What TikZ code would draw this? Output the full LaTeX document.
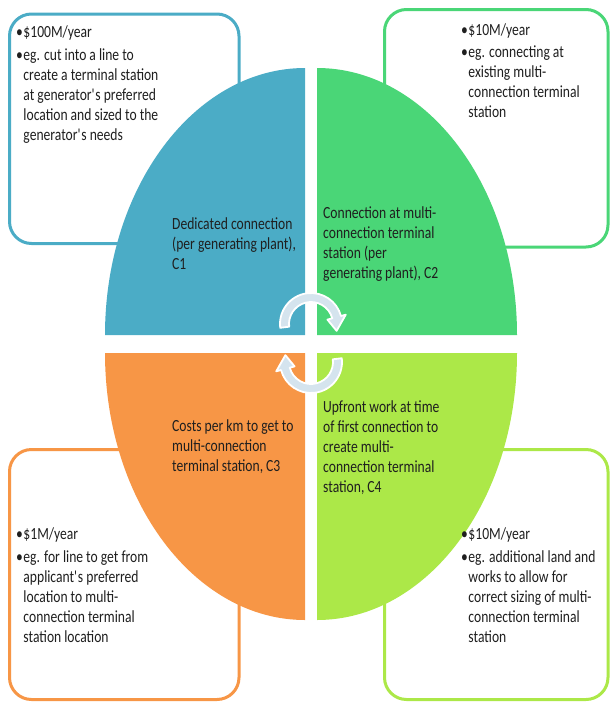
\documentclass[tikz,border=0pt]{standalone}
\usepackage{fontspec}
\setmainfont{Carlito}[FakeStretch=0.8]
\usetikzlibrary{calc}

\definecolor{cblue}{HTML}{4BACC6}
\definecolor{cgreen}{HTML}{4AD677}
\definecolor{corange}{HTML}{F79646}
\definecolor{clime}{HTML}{ACE848}
\definecolor{cturn}{HTML}{D5E4EE}

\newcommand{\items}[1]{\begin{tabular}[t]{@{}l@{\hspace{0.5pt}}l@{}}#1\end{tabular}}
\newcommand{\lines}[1]{\begin{tabular}[t]{@{}l@{}}#1\end{tabular}}
\newcommand{\q}{\textquotesingle}

\begin{document}
\begin{tikzpicture}[x=1pt,y=-1pt,
  font=\fontsize{17}{20}\selectfont,
  box/.style={line width=3pt,rounded corners=22pt,fill=white},
  txt/.style={anchor=base west,inner sep=0pt,text=black!88},
  turn/.style={fill=cturn,draw=white,line width=1.8pt,line join=round}]

\useasboundingbox (0,0) rectangle (611,702);

\def\rx{200}
\def\ry{267}

\draw[box,draw=cblue] (9.5,14) rectangle (239,243.5);
\draw[box,draw=cgreen] (384.5,9.5) rectangle (608,247);
\draw[box,draw=corange] (9.5,449.5) rectangle (239,699.5);
\draw[box,draw=clime] (384.5,449.5) rectangle (608,699.5);

\fill[cblue] (305,335) -- (105,335)
  arc[start angle=180,end angle=270,x radius=\rx,y radius=\ry] -- cycle;
\fill[cgreen] (317,335) -- (317,68)
  arc[start angle=270,end angle=360,x radius=\rx,y radius=\ry] -- cycle;
\fill[corange] (305,353) -- (305,620)
  arc[start angle=90,end angle=180,x radius=\rx,y radius=\ry] -- cycle;
\fill[clime] (317,353) -- (517,353)
  arc[start angle=0,end angle=90,x radius=\rx,y radius=\ry] -- cycle;

\node[txt] (cost1) at (16,37) {\items{\textbullet & \$100M/year\\[3pt]
  \textbullet & eg. cut into a line to\\
  & create a terminal station\\
  & at generator\q s preferred\\
  & location and sized to the\\
  & generator\q s needs}};
\node[txt] (cost2) at (461,35) {\items{\textbullet & \$10M/year\\[2pt]
  \textbullet & eg. connecting at\\
  & existing multi-\\
  & connection terminal\\
  & station}};
\node[txt] (cost3) at (16,539) {\items{\textbullet & \$1M/year\\[3pt]
  \textbullet & eg. for line to get from\\
  & applicant\q s preferred\\
  & location to multi-\\
  & connection terminal\\
  & station location}};
\node[txt] (cost4) at (461,539) {\items{\textbullet & \$10M/year\\[3pt]
  \textbullet & eg. additional land and\\
  & works to allow for\\
  & correct sizing of multi-\\
  & connection terminal\\
  & station}};

\node[txt] (c1) at (172,229) {\lines{Dedicated connection\\
  (per generating plant),\\ C1}};
\node[txt] (c2) at (323,218) {\lines{Connection at multi-\\
  connection terminal\\ station (per\\ generating plant), C2}};
\node[txt] (c3) at (172,431) {\lines{Costs per km to get to\\
  multi-connection\\ terminal station, C3}};
\node[txt] (c4) at (323,412) {\lines{Upfront work at time\\
  of first connection to\\ create multi-\\
  connection terminal\\ station, C4}};

\coordinate (upturn) at (311,324);
\coordinate (downturn) at (311,362);
\draw[turn] ($(upturn)+(173:31)$) arc[start angle=173,end angle=345,radius=31]
  -- ($(upturn)+(345:36)$) -- ($(upturn)+(375:26.5)$)
  -- ($(upturn)+(345:17)$) -- ($(upturn)+(345:22)$)
  arc[start angle=345,end angle=173,radius=22] -- cycle;
\draw[turn] ($(downturn)+(353:31)$) arc[start angle=353,end angle=525,radius=31]
  -- ($(downturn)+(525:36)$) -- ($(downturn)+(555:26.5)$)
  -- ($(downturn)+(525:17)$) -- ($(downturn)+(525:22)$)
  arc[start angle=525,end angle=353,radius=22] -- cycle;

\end{tikzpicture}
\end{document}
